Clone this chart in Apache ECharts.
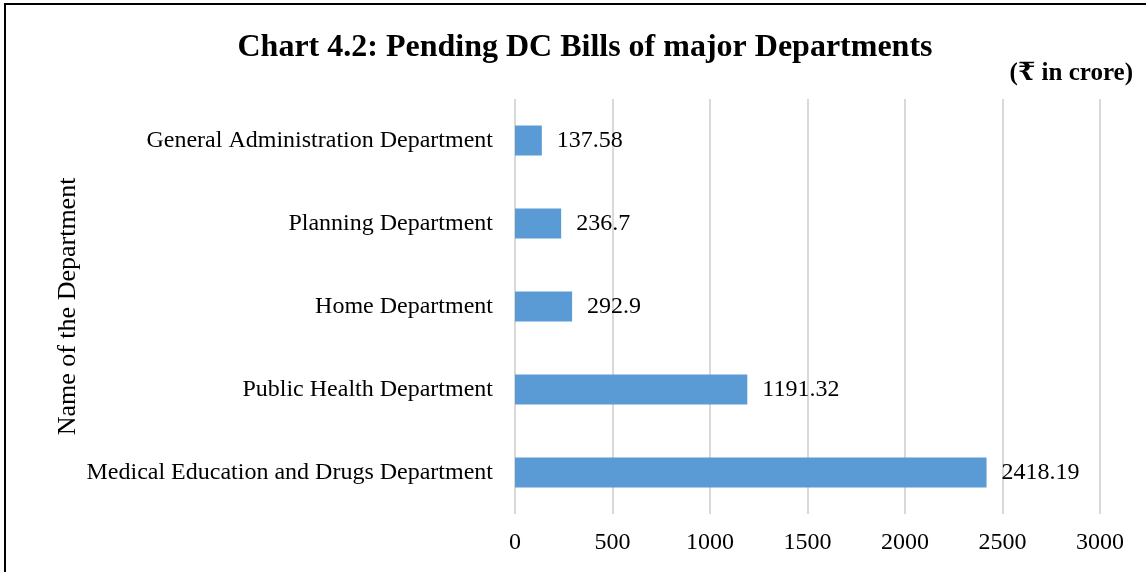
<!DOCTYPE html>
<html>
<head>
<meta charset="utf-8">
<script src="https://cdn.jsdelivr.net/npm/echarts@6/dist/echarts.min.js"></script>
<style>
  html, body { margin: 0; padding: 0; background: #fff; }
  #chart { width: 1146px; height: 572px; }
</style>
</head>
<body>
<div id="chart"></div>
<script>
// departments, bottom to top as drawn
var departments = [
  'Medical Education and Drugs Department',
  'Public Health Department',
  'Home Department',
  'Planning Department',
  'General Administration Department'
]
var pendingBills = [2418.19, 1191.32, 292.9, 236.7, 137.58]
var xTicks = [0, 500, 1000, 1500, 2000, 2500, 3000]

var serif = '"Liberation Serif", "DejaVu Serif", serif'
var chart = echarts.init(document.getElementById('chart'))

chart.setOption({
  animation: false,
  textStyle: { fontFamily: serif },
  title: [
    {
      text: 'Chart 4.2: Pending DC Bills of major Departments',
      left: 580,
      top: 27,
      textAlign: 'center',
      textStyle: { fontFamily: serif, fontSize: 32, fontWeight: 'bold', color: '#000' }
    },
    {
      text: '(₹ in crore)',
      right: 8,
      top: 56,
      textStyle: { fontFamily: serif, fontSize: 25, fontWeight: 'bold', color: '#000' }
    }
  ],
  graphic: [
    {
      type: 'rect',
      shape: { x: 5, y: 4, width: 1160, height: 620 },
      style: { fill: null, stroke: '#000', lineWidth: 2 },
      silent: true
    }
  ],
  grid: { left: 515, right: 46, top: 99, bottom: 58 },
  xAxis: {
    type: 'value',
    min: xTicks[0],
    max: xTicks[xTicks.length - 1],
    interval: 500,
    axisLine: { show: false },
    axisTick: { show: false },
    axisLabel: {
      fontFamily: serif, fontSize: 24, color: '#000', margin: 17,
      formatter: function (v) { return String(v) }
    },
    splitLine: { show: true, lineStyle: { color: '#d9d9d9', width: 2 } }
  },
  yAxis: {
    type: 'category',
    data: departments,
    name: 'Name of the Department',
    nameLocation: 'middle',
    nameRotate: 90,
    nameGap: 434,
    nameMoveOverlap: false,
    nameTextStyle: { fontFamily: serif, fontSize: 26, color: '#000' },
    axisLine: { show: false },
    axisTick: { show: false },
    axisLabel: { fontFamily: serif, fontSize: 24, color: '#000', margin: 22 }
  },
  series: [
    {
      type: 'bar',
      data: pendingBills,
      barWidth: 30,
      itemStyle: { color: '#5b9bd5' },
      label: {
        show: true,
        position: 'right',
        distance: 15,
        fontFamily: serif,
        fontSize: 24,
        color: '#000'
      }
    }
  ]
})
</script>
</body>
</html>
